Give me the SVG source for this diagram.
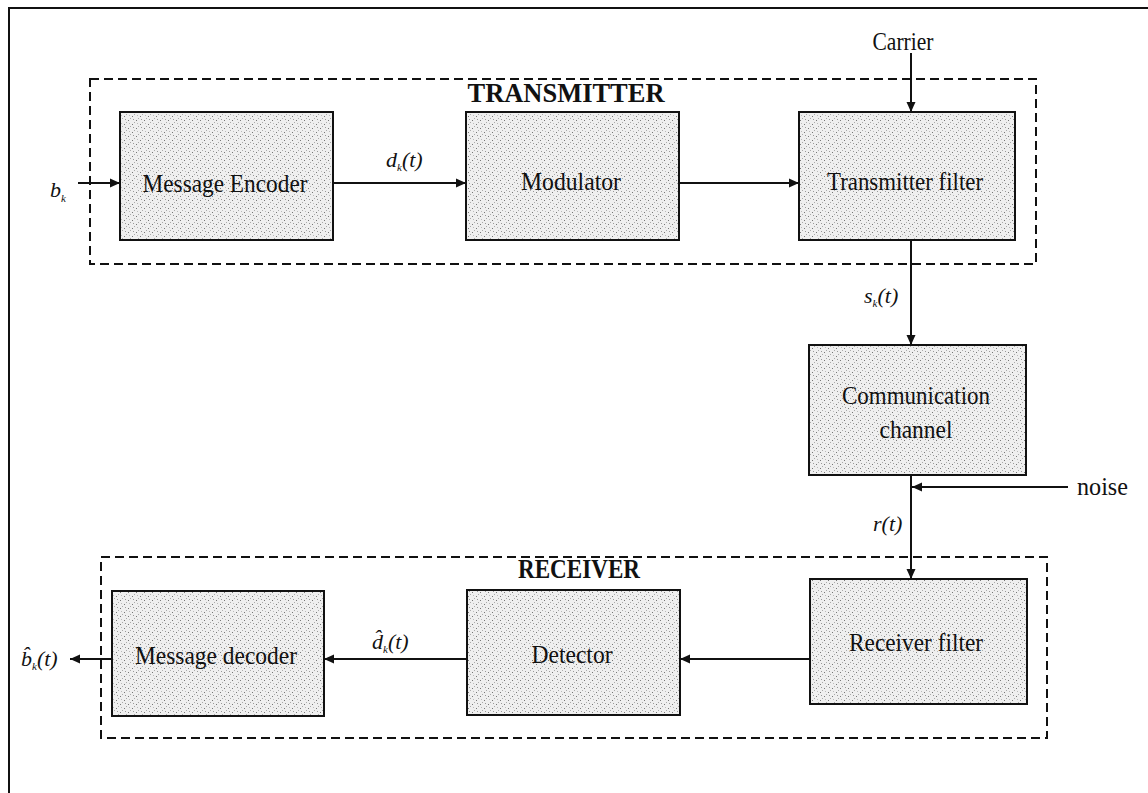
<svg xmlns="http://www.w3.org/2000/svg" width="1148" height="793" viewBox="0 0 1148 793">
  <style>
    .frame { fill: none; stroke: #111; stroke-width: 2; }
    .group { fill: none; stroke: #111; stroke-width: 2; stroke-dasharray: 9 5; }
    .block { fill: url(#stipple); stroke: #111; stroke-width: 2; }
    .wire { fill: none; stroke: #111; stroke-width: 2; }
    .lbl { font-family: "Liberation Serif", "Times New Roman", serif; font-size: 26px; fill: #111; text-anchor: middle; }
    .title { font-family: "Liberation Serif", "Times New Roman", serif; font-size: 28px; font-weight: bold; fill: #111; text-anchor: middle; }
    .math { font-family: "Liberation Serif", "Times New Roman", serif; font-style: italic; font-size: 22px; fill: #111; }
    .sub { font-size: 11px; }
  </style>
  <defs>
    <!-- fine grey stipple used as the block fill -->
    <pattern id="stipple" width="8" height="8" patternUnits="userSpaceOnUse">
      <rect width="8" height="8" fill="#efefef"/>
      <rect x="0" y="0" width="1" height="1" fill="#777"/>
      <rect x="4" y="4" width="1" height="1" fill="#777"/>
      <rect x="2" y="6" width="1" height="1" fill="#aaa"/>
      <rect x="6" y="2" width="1" height="1" fill="#aaa"/>
      <rect x="5" y="7" width="1" height="1" fill="#999"/>
      <rect x="1" y="3" width="1" height="1" fill="#bbb"/>
    </pattern>
    <marker id="arrow" viewBox="0 0 10 10" refX="10" refY="5" markerWidth="10" markerHeight="10" markerUnits="userSpaceOnUse" orient="auto">
      <path d="M0,0.5 L10,5 L0,9.5 Z" fill="#111"/>
    </marker>
  </defs>

  <rect width="1148" height="793" fill="#fff"/>

  <!-- outer border (top and left edges) -->
  <path class="frame" d="M9,793 V8 H1148"/>

  <!-- transmitter group -->
  <g id="transmitter">
    <rect class="group" x="90" y="79" width="946" height="185"/>
    <text class="title" x="566" y="102" textLength="197" lengthAdjust="spacingAndGlyphs">TRANSMITTER</text>
  </g>

  <!-- receiver group -->
  <g id="receiver">
    <rect class="group" x="101" y="557" width="946" height="181"/>
    <text class="title" x="579" y="578" textLength="122" lengthAdjust="spacingAndGlyphs">RECEIVER</text>
  </g>

  <g id="message-encoder">
    <rect class="block" x="120" y="112" width="213" height="128"/>
    <text class="lbl" x="225" y="192" textLength="165" lengthAdjust="spacingAndGlyphs">Message Encoder</text>
  </g>

  <g id="modulator">
    <rect class="block" x="466" y="112" width="213" height="128"/>
    <text class="lbl" x="571" y="190" textLength="100" lengthAdjust="spacingAndGlyphs">Modulator</text>
  </g>

  <g id="transmitter-filter">
    <rect class="block" x="799" y="112" width="216" height="128"/>
    <text class="lbl" x="905" y="190" textLength="156" lengthAdjust="spacingAndGlyphs">Transmitter filter</text>
  </g>

  <g id="channel">
    <rect class="block" x="809" y="345" width="217" height="130"/>
    <text class="lbl" x="916" y="404" textLength="148" lengthAdjust="spacingAndGlyphs">Communication</text>
    <text class="lbl" x="916" y="438" textLength="73" lengthAdjust="spacingAndGlyphs">channel</text>
  </g>

  <g id="receiver-filter">
    <rect class="block" x="810" y="579" width="217" height="125"/>
    <text class="lbl" x="916" y="651" textLength="134" lengthAdjust="spacingAndGlyphs">Receiver filter</text>
  </g>

  <g id="detector">
    <rect class="block" x="467" y="590" width="213" height="125"/>
    <text class="lbl" x="572" y="663" textLength="81" lengthAdjust="spacingAndGlyphs">Detector</text>
  </g>

  <g id="message-decoder">
    <rect class="block" x="112" y="591" width="212" height="125"/>
    <text class="lbl" x="216" y="664" textLength="162" lengthAdjust="spacingAndGlyphs">Message decoder</text>
  </g>

  <!-- signal flow -->
  <g id="connectors">
    <line class="wire" x1="78" y1="183" x2="120" y2="183" marker-end="url(#arrow)"/>
    <line class="wire" x1="333" y1="183" x2="466" y2="183" marker-end="url(#arrow)"/>
    <line class="wire" x1="679" y1="183" x2="799" y2="183" marker-end="url(#arrow)"/>
    <line class="wire" x1="911" y1="53" x2="911" y2="112" marker-end="url(#arrow)"/>
    <line class="wire" x1="911" y1="240" x2="911" y2="345" marker-end="url(#arrow)"/>
    <line class="wire" x1="1068" y1="487" x2="912" y2="487" marker-end="url(#arrow)"/>
    <line class="wire" x1="911" y1="475" x2="911" y2="579" marker-end="url(#arrow)"/>
    <line class="wire" x1="810" y1="659" x2="680" y2="659" marker-end="url(#arrow)"/>
    <line class="wire" x1="467" y1="659" x2="324" y2="659" marker-end="url(#arrow)"/>
    <line class="wire" x1="112" y1="659" x2="70" y2="659" marker-end="url(#arrow)"/>
  </g>

  <!-- signal labels -->
  <g id="labels">
    <text class="lbl" x="903" y="50" textLength="61" lengthAdjust="spacingAndGlyphs">Carrier</text>
    <text class="lbl" x="1077" y="495" style="text-anchor:start" textLength="51" lengthAdjust="spacingAndGlyphs">noise</text>
    <text class="math" x="50" y="197">b<tspan class="sub" dy="5">k</tspan></text>
    <text class="math" x="386" y="167">d<tspan class="sub" dy="4">k</tspan><tspan dy="-4">(t)</tspan></text>
    <text class="math" x="864" y="303">s<tspan class="sub" dy="4">k</tspan><tspan dy="-4">(t)</tspan></text>
    <text class="math" x="873" y="531">r(t)</text>
    <text class="math" x="372" y="649">d̂<tspan class="sub" dy="4">k</tspan><tspan dy="-4">(t)</tspan></text>
    <text class="math" x="21" y="666">b̂<tspan class="sub" dy="4">k</tspan><tspan dy="-4">(t)</tspan></text>
  </g>
</svg>
